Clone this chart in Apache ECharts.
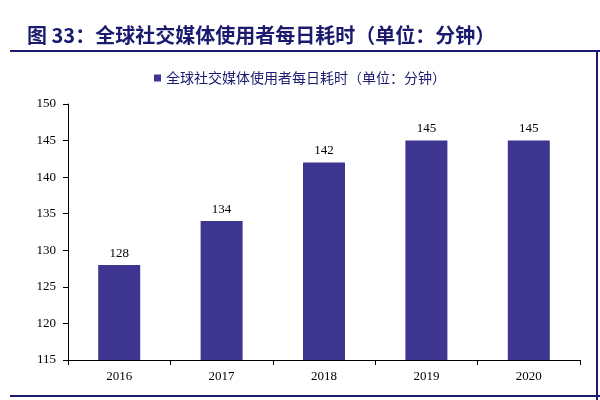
<!DOCTYPE html><html><head><meta charset="utf-8"><script src="https://cdn.jsdelivr.net/npm/echarts@6/dist/echarts.min.js"></script></head><body style="margin:0"><div id="c" style="width:600px;height:400px"></div><script>
const categories=['2016','2017','2018','2019','2020'];
const values=[128,134,142,145,145];
const seriesName='全球社交媒体使用者每日耗时（单位：分钟）';
const titleText='图 33：全球社交媒体使用者每日耗时（单位：分钟）';
const c=echarts.init(document.getElementById('c'));
c.setOption({
 animation:false,
 title:{text:titleText,left:22,top:20,textStyle:{color:'#1a1a6e',fontSize:20,fontWeight:'bold',fontFamily:'Noto Sans CJK SC'}},
 graphic:[
  {type:'line',shape:{x1:10,y1:51,x2:600,y2:51},style:{stroke:'#1a1a6e',lineWidth:2}},
  {type:'line',shape:{x1:597,y1:51,x2:597,y2:400},style:{stroke:'#1a1a6e',lineWidth:2}},
  {type:'line',shape:{x1:10,y1:396,x2:600,y2:396},style:{stroke:'#1a1a6e',lineWidth:2}}
 ],
 legend:{top:66,left:'center',itemWidth:7,itemHeight:7,icon:'rect',textStyle:{color:'#1a1a6e',fontSize:14,fontFamily:'Noto Sans CJK SC'}},
 grid:{left:68,right:20,top:104,bottom:40},
 xAxis:{type:'category',data:categories,axisLine:{lineStyle:{color:'#000'}},axisTick:{show:true,inside:false},axisLabel:{color:'#000',fontSize:13,fontFamily:'Liberation Serif',margin:10}},
 yAxis:{type:'value',min:115,max:150,interval:5,axisLine:{show:true,lineStyle:{color:'#000'}},axisTick:{show:true},splitLine:{show:false},axisLabel:{color:'#000',fontSize:13,fontFamily:'Liberation Serif',margin:12}},
 series:[{name:seriesName,type:'bar',data:values,barWidth:'41%',itemStyle:{color:'#3d3590'},label:{show:true,position:'top',color:'#000',fontSize:13,fontFamily:'Liberation Serif'}}]
});
</script></body></html>
